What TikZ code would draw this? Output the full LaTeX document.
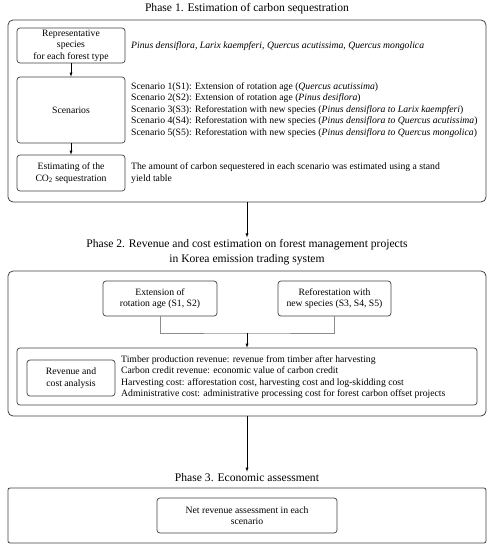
\documentclass[tikz,border=0pt]{standalone}
\usepackage{fontspec}
\setmainfont{Liberation Serif}
\usepackage{tikz}

\begin{document}
\begin{tikzpicture}[x=1pt,y=-1pt,>=latex,
	box/.style={draw=black!75,line width=0.7pt,rounded corners=3pt,align=center,inner sep=1pt,
		font=\fontsize{9.7}{11.5}\selectfont},
	frame/.style={draw=black!75,line width=0.8pt,rounded corners=5pt},
	phase/.style={align=center,inner sep=2pt,font=\fontsize{11.6}{15}\selectfont},
	desc/.style={anchor=west,align=left,inner sep=0pt,font=\fontsize{9.7}{11.5}\selectfont}]
		\useasboundingbox (0,0) rectangle (492,550);
		% phase 1
		\node [phase] (T1) at (247,9) {Phase 1. Estimation of carbon sequestration};
		\node [frame,minimum width=478pt,minimum height=182pt] (F1) at (247,111) {};
		\node [box,minimum width=108pt,minimum height=35pt] (R1) at (71,45.5) {Representative\\species\\for each forest type};
		\node [box,minimum width=108pt,minimum height=66pt] (S1) at (71,110) {Scenarios};
		\node [box,minimum width=108pt,minimum height=36pt] (E1) at (71,173) {Estimating of the\\CO\textsubscript{2} sequestration};
		\draw [->] (R1) -- (S1);
		\draw [->] (S1) -- (E1);
		\node [desc] (R1t) at (131,46) {\itshape Pinus densiflora, Larix kaempferi, Quercus acutissima, Quercus mongolica};
		\node [desc] (S1t) at (131,110) {Scenario 1(S1): Extension of rotation age (\textit{Quercus acutissima})\\
			Scenario 2(S2): Extension of rotation age (\textit{Pinus desiflora})\\
			Scenario 3(S3): Reforestation with new species (\textit{Pinus densiflora to Larix kaempferi})\\
			Scenario 4(S4): Reforestation with new species (\textit{Pinus densiflora to Quercus acutissima})\\
			Scenario 5(S5): Reforestation with new species (\textit{Pinus densiflora to Quercus mongolica})};
		\node [desc] (E1t) at (131,173) {The amount of carbon sequestered in each scenario was estimated using a stand\\yield table};
		% phase 2
		\node [phase] (T2) at (247,252.5) {Phase 2. Revenue and cost estimation on forest management projects\\in Korea emission trading system};
		\draw [->] (F1) -- (T2);
		\node [frame,minimum width=478pt,minimum height=145pt] (F2) at (247,343.5) {};
		\node [box,minimum width=114pt,minimum height=35pt] (A2) at (160,298.5) {Extension of\\rotation age (S1, S2)};
		\node [box,minimum width=113pt,minimum height=35pt] (B2) at (334.5,298.5) {Reforestation with\\new species (S3, S4, S5)};
		\node [box,minimum width=460pt,minimum height=57pt] (C2) at (247,376.5) {};
		\node [box,minimum width=88pt,minimum height=36pt] (D2) at (71,378) {Revenue and\\cost analysis};
		\node [desc] (D2t) at (121,377) {Timber production revenue: revenue from timber after harvesting\\
			Carbon credit revenue: economic value of carbon credit\\
			Harvesting cost: afforestation cost, harvesting cost and log-skidding cost\\
			Administrative cost: administrative processing cost for forest carbon offset projects};
		\coordinate (J2) at (247,333);
		\draw [black!45,line width=0.7pt] (A2) |- (J2) -| (B2);
		\draw [->] (J2) -- (C2);
		% phase 3
		\node [phase] (T3) at (247,478) {Phase 3. Economic assessment};
		\draw [->] (F2) -- (T3);
		\node [frame,rounded corners=2pt,minimum width=478pt,minimum height=55pt] (F3) at (247,515.5) {};
		\node [box,minimum width=180pt,minimum height=35pt] (N3) at (247,515.5) {Net revenue assessment in each\\scenario};
\end{tikzpicture}
\end{document}
